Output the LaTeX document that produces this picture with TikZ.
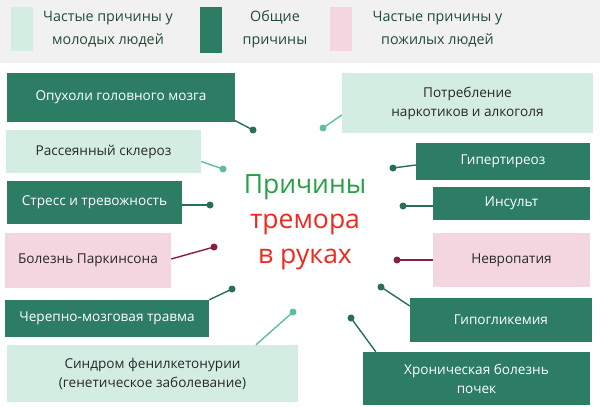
\documentclass[tikz,border=0pt]{standalone}
\usepackage{fontspec}
\setmainfont{Open Sans}
\definecolor{darkg}{RGB}{45,125,100}
\definecolor{lightg}{RGB}{212,237,227}
\definecolor{pinkb}{RGB}{244,214,224}
\definecolor{mintl}{RGB}{95,190,160}
\definecolor{maroon}{RGB}{135,30,70}
\definecolor{dotg}{RGB}{40,110,88}
\definecolor{legtxt}{RGB}{35,75,55}
\definecolor{bandg}{RGB}{240,241,240}
\definecolor{titleg}{RGB}{40,160,70}
\definecolor{titler}{RGB}{240,40,30}
\definecolor{boxtxt}{RGB}{40,40,40}
\begin{document}
\begin{tikzpicture}[x=1pt,y=-1pt,
  cbox/.style={inner sep=0pt, align=center, font=\fontsize{13.6}{19}\selectfont},
  darkbox/.style={cbox, fill=darkg, text=white},
  lightbox/.style={cbox, fill=lightg, text=boxtxt},
  pinkbox/.style={cbox, fill=pinkb, text=boxtxt},
  dotd/.style={circle, fill=dotg, inner sep=0pt, minimum size=7pt},
  dotm/.style={circle, fill=mintl, inner sep=0pt, minimum size=7pt},
  dotp/.style={circle, fill=maroon, inner sep=0pt, minimum size=7pt},
  lnd/.style={draw=dotg, line width=1.4pt},
  lnm/.style={draw=mintl, line width=1.4pt},
  lnp/.style={draw=maroon, line width=1.4pt},
  legend/.style={align=center, text=legtxt, font=\fontsize{14.3}{23}\selectfont}]
\useasboundingbox (0,0) rectangle (600,407);
\fill[white] (0,0) rectangle (600,407);
\fill[bandg] (0,0) rectangle (600,63);

% legend
\node[fill=lightg, minimum width=22pt, minimum height=44pt, inner sep=0pt] (lg1) at (21.5,29) {};
\node[legend] (lt1) at (108,29.5) {Частые причины у\\молодых людей};
\node[fill=darkg, minimum width=22pt, minimum height=46pt, inner sep=0pt] (lg2) at (211,30) {};
\node[legend] (lt2) at (275,29.5) {Общие\\причины};
\node[fill=pinkb, minimum width=22pt, minimum height=44pt, inner sep=0pt] (lg3) at (341,29) {};
\node[legend] (lt3) at (437.5,29.5) {Частые причины у\\пожилых людей};

% title
\node[align=center, font=\fontsize{26.5}{35}\selectfont] (title) at (305,222)
  {\textcolor{titleg}{Причины}\\\textcolor{titler}{тремора}\\\textcolor{titler}{в руках}};

% left boxes
\node[darkbox, minimum width=228pt, minimum height=49pt] (b1) at (121,97.5) {Опухоли головного мозга};
\node[lightbox, minimum width=195pt, minimum height=43pt] (b2) at (103.5,151.5) {Рассеянный склероз};
\node[darkbox, minimum width=175pt, minimum height=43pt] (b3) at (94.5,202.5) {Стресс и тревожность};
\node[pinkbox, minimum width=166pt, minimum height=55pt] (b4) at (88,260.5) {Болезнь Паркинсона};
\node[darkbox, minimum width=204pt, minimum height=37pt] (b5) at (107,318.5) {Черепно-мозговая травма};
\node[lightbox, minimum width=291pt, minimum height=57pt] (b6) at (152.5,373.5) {Синдром фенилкетонурии\\(генетическое заболевание)};

% right boxes
\node[lightbox, minimum width=251pt, minimum height=60pt] (r1) at (467.5,103) {Потребление\\наркотиков и алкоголя};
\node[darkbox, minimum width=174pt, minimum height=37pt] (r2) at (503,161.5) {Гипертиреоз};
\node[darkbox, minimum width=157pt, minimum height=33pt] (r3) at (511.5,203.5) {Инсульт};
\node[pinkbox, minimum width=157pt, minimum height=54pt] (r4) at (511.5,260) {Невропатия};
\node[darkbox, minimum width=182pt, minimum height=44pt] (r5) at (501,320) {Гипогликемия};
\node[darkbox, minimum width=227pt, minimum height=53pt] (r6) at (476.5,378.5) {Хроническая болезнь\\почек};

% dots
\node[dotd] (d1) at (253,130) {};
\node[dotm] (d2) at (223,169) {};
\node[dotd] (d3) at (210,205) {};
\node[dotp] (d4) at (214,247) {};
\node[dotd] (d5) at (232,289) {};
\node[dotm] (d6) at (293,312) {};
\node[dotm] (e1) at (323,128) {};
\node[dotd] (e2) at (393,168) {};
\node[dotd] (e3) at (403,206) {};
\node[dotp] (e4) at (397,260) {};
\node[dotd] (e5) at (381,287) {};
\node[dotd] (e6) at (351,318) {};

% connectors
\draw[lnd] ([xshift=-1pt,yshift=2pt]b1.south east) -- (d1.center);
\draw[lnm] ([yshift=-10pt]b2.east) -- (d2.center);
\draw[lnd] ([yshift=-2.5pt]b3.east) -- (d3.center);
\draw[lnp] ([yshift=1.5pt]b4.east) -- (d4.center);
\draw[lnd] (b5.north east) -- (d5.center);
\draw[lnm] ([xshift=103.5pt]b6.north) -- (d6.center);
\draw[lnm] ([yshift=-12pt]r1.west) -- (e1.center);
\draw[lnd] ([yshift=-3.5pt]r2.west) -- (e2.center);
\draw[lnd] ([yshift=-2.5pt]r3.west) -- (e3.center);
\draw[lnp] (r4.west) -- (e4.center);
\draw[lnd] ([yshift=14pt]r5.west) -- (e5.center);
\draw[lnd] ([xshift=13pt]r6.north west) -- (e6.center);
\end{tikzpicture}
\end{document}
